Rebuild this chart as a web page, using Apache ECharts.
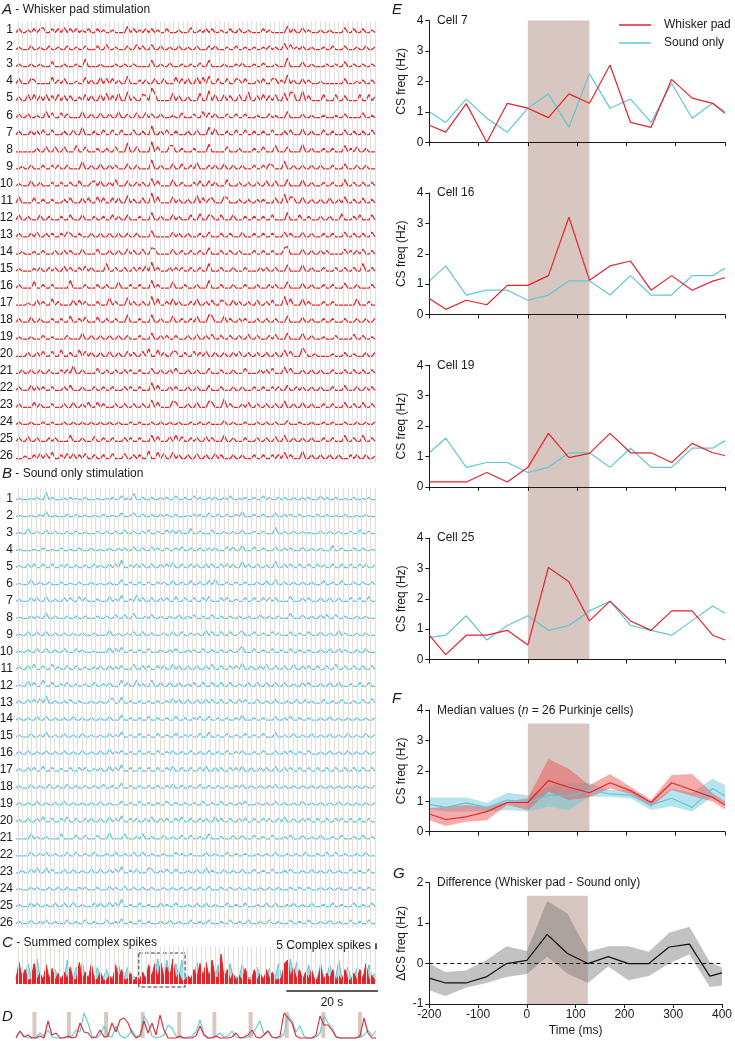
<!DOCTYPE html>
<html>
<head>
<meta charset="utf-8">
<script src="https://cdn.jsdelivr.net/npm/echarts@6/dist/echarts.min.js"></script>
<style>
  html, body { margin: 0; padding: 0; background: #fff; }
  #main { width: 735px; height: 1041px; }
</style>
</head>
<body>
<div id="main"></div>
<script>
// ---- data ----
// raster traces: "column:height" tokens, 120 columns over ~79 s, height in px above baseline
var whiskerTraces = [
  "1:3 4:2 6:3 8:3 9:4 12:3 14:3 16:4 18:3 20:3 22:2 24:3 27:3 29:2 32:2 37:5 39:3 41:2 43:3 45:3 47:2 50:3 54:2 58:4 61:2 63:3 65:3 68:2 71:3 74:3 77:2 82:3 84:2 90:5 92:3 95:4 97:2 101:2 104:2 109:4 112:3 115:3 118:2",
  "1:2 5:3 8:2 11:3 14:2 17:3 20:2 23:3 27:3 30:4 33:2 37:3 40:4 42:3 45:4 48:3 51:2 54:3 57:2 60:3 64:3 66:3 70:2 73:3 76:2 79:2 82:2 84:3 86:2 89:5 91:4 93:2 95:3 98:2 102:2 105:3 109:3 113:2 116:3 119:2",
  "1:2 5:2 8:2 12:4 16:2 20:2 23:6 28:2 33:2 36:2 39:2 45:5 48:2 51:3 55:2 58:2 61:3 64:5 69:2 73:2 75:3 79:2 82:3 86:2 90:7 95:4 98:2 103:2 106:2 109:4 112:2 115:2 118:2",
  "1:4 5:4 6:3 12:5 14:3 16:4 20:2 23:5 25:3 28:5 30:4 32:4 34:3 37:6 41:3 43:3 46:4 49:4 53:5 55:4 57:4 60:5 62:5 64:6 67:4 70:4 73:4 74:3 76:4 80:3 82:4 85:4 86:4 88:3 90:7 92:3 95:4 97:3 101:2 109:4 113:2 115:3 118:3",
  "1:3 4:5 6:5 8:4 10:5 12:4 14:5 16:4 18:4 21:3 23:5 25:4 28:5 30:6 32:4 34:6 37:7 39:3 42:5 43:4 45:10 46:6 52:6 54:4 57:3 61:6 64:8 66:5 69:5 71:4 74:5 77:7 80:4 82:5 84:4 86:5 89:6 91:7 92:6 95:8 97:4 102:5 106:5 109:4 114:5 117:5 119:3",
  "1:3 4:3 7:2 10:5 12:4 15:4 17:3 22:5 25:3 28:4 31:3 34:5 37:3 40:4 43:4 45:3 48:3 52:2 55:4 59:3 62:5 64:4 66:3 70:3 73:3 76:3 80:2 84:3 86:2 90:5 95:3 98:2 102:2 106:2 109:3 115:4 118:2",
  "1:3 5:3 7:3 9:4 12:4 16:3 19:4 22:6 26:3 29:4 32:4 35:4 39:4 42:3 45:7 48:3 50:4 53:3 57:3 60:4 64:6 66:5 70:3 73:4 76:4 79:3 82:3 85:4 89:3 91:4 95:5 98:3 102:4 105:3 109:4 112:3 115:3 118:4",
  "7:3 10:4 13:4 16:4 20:5 23:4 27:3 30:3 33:4 37:7 40:4 45:8 47:4 51:5 52:5 55:3 59:3 64:6 70:4 74:3 79:3 82:4 86:5 90:4 95:6 98:3 102:3 105:3 109:5 111:3 113:4 116:3",
  "2:2 5:3 9:3 12:3 14:3 17:3 22:6 25:3 28:4 31:3 33:3 37:4 40:3 45:7 48:3 52:4 55:4 58:3 60:5 64:3 66:3 69:4 72:3 75:3 79:3 82:3 84:4 85:3 89:6 92:3 95:3 98:3 101:3 105:3 109:4 113:3 116:3",
  "1:2 5:4 8:3 12:3 15:3 18:3 21:4 25:3 26:4 28:4 31:3 33:5 37:4 40:3 42:3 45:6 47:4 52:5 55:3 59:3 61:4 64:4 66:3 70:5 74:3 77:3 80:3 83:4 86:4 90:5 95:5 98:3 102:3 105:3 109:5 112:3 115:3 118:3",
  "1:5 6:4 9:3 12:3 16:3 18:4 22:4 24:4 27:5 29:4 32:4 34:4 37:6 39:3 42:4 45:8 47:5 52:5 54:3 57:3 60:6 62:4 64:3 65:4 69:5 70:4 74:3 77:3 80:3 82:3 86:4 89:7 91:5 92:4 95:5 98:3 101:3 104:4 107:3 109:5 112:3 115:4 118:3",
  "1:4 4:3 8:4 11:3 15:3 18:4 22:4 26:3 29:3 32:4 34:3 37:4 41:3 45:6 48:3 52:4 54:3 58:4 61:5 64:4 65:3 68:4 72:4 76:3 79:3 82:3 85:4 90:6 94:4 97:3 101:3 104:3 108:5 112:3 114:4 118:4",
  "1:3 5:3 7:4 10:3 12:3 15:3 17:4 18:3 21:3 25:3 28:3 31:3 34:3 37:3 40:3 45:5 52:4 54:3 57:3 61:3 64:4 68:3 71:3 75:4 79:3 82:3 85:3 89:4 91:3 95:4 98:3 102:3 105:3 109:4 112:3 115:3 118:4",
  "2:2 6:2 9:3 13:3 16:3 18:3 22:4 27:4 31:3 34:3 37:4 39:3 42:4 45:5 46:4 52:4 55:3 58:3 61:3 64:5 68:3 71:3 74:3 79:3 82:3 85:3 89:5 90:6 95:4 98:3 101:3 103:3 109:4 111:3 113:3 115:4 118:3",
  "1:2 6:2 8:3 11:3 13:3 16:4 18:3 21:3 23:4 25:3 30:6 33:3 36:3 39:3 41:3 43:4 45:7 47:3 51:3 53:3 55:3 58:3 61:3 64:6 68:3 72:3 76:3 81:3 83:3 86:3 90:5 95:5 98:3 102:3 106:3 109:3 112:3 115:6 118:3",
  "1:3 6:5 9:3 12:3 18:6 23:3 27:3 30:3 34:5 38:3 41:3 45:6 47:3 52:5 56:3 60:3 64:6 68:3 72:3 76:3 80:3 84:3 86:3 90:5 95:4 98:3 102:3 105:3 109:4 113:3 118:3",
  "4:2 7:4 9:3 12:5 14:3 19:4 21:4 23:3 27:3 31:6 33:3 37:6 39:3 42:3 45:7 47:5 50:3 52:5 54:3 58:3 60:5 63:3 65:4 68:4 69:3 72:4 74:3 77:3 80:4 83:3 85:4 89:7 91:5 95:5 97:3 102:3 105:3 113:5 117:3",
  "1:3 5:4 8:3 12:3 15:3 18:5 21:3 23:4 27:4 30:3 33:3 37:6 41:3 45:6 48:3 52:5 55:3 58:3 60:5 64:6 65:5 69:5 71:3 74:3 76:3 80:3 83:3 86:3 90:5 95:4 98:3 102:3 105:3 109:3 113:3 116:3 119:3",
  "1:2 5:2 9:3 12:2 17:3 22:5 25:3 28:3 31:3 34:3 37:3 41:3 45:5 48:3 50:3 53:3 57:3 60:4 63:3 65:4 68:3 71:3 74:3 77:4 80:3 84:3 86:4 90:5 95:5 98:3 102:2 106:3 112:4 115:3 118:2",
  "4:3 7:3 9:4 12:4 15:5 18:3 21:5 23:4 25:3 28:3 31:4 34:3 37:4 39:3 42:4 44:6 47:5 49:3 52:4 53:4 56:3 59:4 61:3 63:4 66:3 69:3 72:3 74:4 77:3 80:3 83:3 86:3 89:5 91:4 95:7 96:3 99:2 105:2 109:3 112:2 116:3 119:3",
  "2:3 5:3 8:3 11:3 15:3 17:3 19:6 22:3 27:4 30:3 33:3 36:3 38:3 41:3 45:4 48:3 51:3 53:4 57:3 60:3 64:4 68:3 72:3 76:4 81:3 83:3 85:4 89:5 91:4 95:3 98:3 101:3 105:3 109:3 112:3 115:3 118:3",
  "1:3 5:4 7:3 9:3 12:3 16:3 18:4 22:3 26:3 29:3 32:3 36:3 38:3 41:3 45:6 47:4 51:3 53:3 57:3 60:3 64:4 68:3 72:3 75:3 79:3 82:3 85:3 87:3 90:4 93:3 95:3 98:3 101:3 105:3 109:4 113:3 116:3 118:3",
  "1:3 6:4 8:3 12:3 16:3 19:4 22:3 24:4 27:4 29:3 33:3 36:3 39:3 42:3 45:6 47:4 52:5 53:4 57:3 60:4 64:5 65:4 69:7 71:3 75:3 77:4 80:3 83:3 86:3 89:5 92:3 95:4 98:3 102:3 105:3 109:4 112:3 115:4 118:3",
  "1:2 5:2 9:2 12:2 16:2 19:2 22:2 25:2 28:2 31:2 34:2 38:2 41:2 45:2 48:2 51:2 54:2 58:2 61:2 64:2 69:3 72:2 76:2 80:2 83:2 86:2 90:3 94:2 98:2 102:2 105:2 109:2 113:2 116:2 119:2",
  "1:3 4:4 7:3 11:3 13:3 18:5 22:3 26:4 29:3 32:3 36:3 38:3 41:3 45:5 47:4 51:4 53:5 55:4 58:3 60:3 63:4 65:3 69:5 72:3 76:3 80:3 83:3 86:4 89:5 92:3 95:3 98:3 102:3 105:3 109:5 112:3 115:5 118:3",
  "3:2 6:3 8:4 10:4 12:5 15:3 17:4 19:4 21:3 23:4 26:3 29:3 32:4 36:4 39:3 41:3 44:6 47:5 49:4 52:5 54:3 57:3 60:4 63:3 66:4 68:3 72:3 75:3 79:3 82:3 85:3 87:3 89:5 91:3 95:6 98:3 101:3 104:3 107:3 111:3 113:3 116:3 119:2"
];
var soundTraces = [
  "1:1 5:1 7:2 10:6 12:2 16:1 18:2 20:1 23:2 27:1 30:1 32:2 35:3 37:1 39:5 42:2 45:2 48:2 50:2 53:3 56:2 59:3 61:2 64:2 66:2 69:2 71:3 74:1 76:2 79:2 82:3 84:2 87:2 89:2 92:2 95:2 97:2 101:3 103:2 106:2 109:1 112:2 115:1 117:2",
  "1:1 5:1 8:2 10:4 13:1 17:2 20:2 23:1 26:1 29:2 32:1 35:3 38:1 39:3 42:2 45:2 48:2 50:2 53:2 57:1 59:2 61:2 64:3 67:2 70:2 73:2 75:4 79:2 82:2 86:3 89:2 91:2 94:2 97:1 100:2 103:2 106:1 109:2 113:1 116:2",
  "1:1 4:4 7:2 10:3 13:2 17:2 20:2 23:1 27:2 30:2 33:2 36:3 39:2 42:2 44:3 47:2 50:3 52:3 54:3 58:4 61:2 65:3 69:2 72:2 75:3 79:2 82:2 86:5 89:2 92:2 95:2 97:1 101:2 104:2 107:2 111:2 114:3 117:2",
  "1:1 6:1 9:2 12:1 15:2 18:1 21:2 25:2 28:1 31:2 34:2 36:2 39:3 42:2 45:3 47:2 50:2 53:2 55:3 58:2 61:2 64:2 66:2 70:3 72:3 75:4 79:3 82:2 86:3 89:2 91:2 95:3 98:2 101:2 105:4 108:2 112:2 115:2 118:1",
  "1:2 4:3 6:3 9:3 12:3 15:2 17:3 20:2 23:2 26:3 28:2 31:3 33:3 35:6 38:2 40:3 42:3 45:3 48:3 50:3 52:4 55:3 58:3 60:3 63:3 65:3 68:3 70:3 72:3 75:5 77:3 80:3 83:2 86:5 89:3 91:3 94:3 97:3 100:3 102:2 105:3 108:3 111:3 114:3 116:3 119:2",
  "1:1 5:4 8:2 11:2 15:2 18:1 21:2 25:2 28:1 31:2 35:4 38:2 41:2 44:2 47:2 49:2 52:3 55:2 58:3 61:2 64:3 66:4 70:2 73:2 76:2 80:2 83:3 86:4 89:2 92:2 95:2 98:2 102:3 105:2 108:3 112:2 115:2 118:2",
  "1:2 5:3 7:3 10:4 13:2 16:3 18:3 21:4 23:3 27:2 31:4 33:2 35:5 38:2 40:5 42:3 45:3 48:3 50:3 53:4 56:3 59:3 62:3 64:4 68:3 70:3 73:2 76:3 79:3 82:3 84:3 86:3 91:4 95:3 97:3 101:3 104:3 107:3 111:3 114:3 117:4",
  "1:1 5:2 7:2 10:4 13:2 17:2 20:2 23:2 27:2 30:2 33:3 36:3 39:4 43:2 45:3 48:2 51:2 54:3 57:2 59:3 62:2 65:3 68:2 71:2 74:2 77:2 81:3 84:2 87:2 91:4 95:3 98:2 101:3 103:3 106:3 109:2 113:2 116:2",
  "1:1 4:3 7:3 10:3 13:2 16:2 19:2 22:2 26:2 31:4 34:2 37:2 39:3 42:3 45:2 49:2 52:3 55:3 58:2 60:2 63:4 65:3 68:3 71:3 74:2 75:4 79:3 82:2 85:3 87:2 91:3 94:2 97:3 101:3 104:2 107:4 109:2 113:2 116:2",
  "1:1 4:2 7:3 10:3 13:2 16:3 20:3 22:2 26:1 31:4 33:3 35:4 38:2 41:2 44:3 48:2 51:2 53:3 57:2 59:2 62:3 65:2 68:2 71:2 74:2 75:5 79:3 82:2 85:3 88:2 91:3 94:2 97:2 101:2 104:3 107:3 109:2 113:2 116:3",
  "1:2 4:3 6:4 9:3 12:4 14:2 17:3 20:3 23:2 26:2 28:3 31:3 33:2 35:3 39:4 42:3 44:3 47:3 49:3 52:4 54:3 57:3 60:3 63:3 65:4 68:3 71:3 73:3 75:5 78:3 81:3 83:4 86:3 89:3 92:4 95:3 97:3 100:3 103:3 106:4 109:3 112:3 115:3 118:3",
  "1:1 4:4 6:3 9:5 12:3 15:2 17:3 20:2 23:2 26:3 29:2 31:3 35:5 37:3 40:5 42:2 45:5 48:3 51:3 54:3 57:2 59:3 62:3 65:3 68:3 71:3 74:2 77:3 80:3 83:3 86:3 89:3 92:2 95:3 97:3 101:2 104:3 107:3 111:2 114:3 117:3",
  "1:2 4:3 6:3 8:4 10:6 13:2 16:2 18:3 21:2 25:2 28:2 31:3 32:4 35:5 38:2 41:2 44:2 47:2 50:2 52:4 54:3 57:3 60:3 63:3 65:3 68:3 71:3 74:3 76:3 80:3 83:2 86:3 90:2 93:3 96:3 98:2 102:3 105:2 108:3 112:2 115:3 118:4",
  "1:2 4:2 7:3 10:3 13:2 16:2 19:3 22:2 25:2 28:2 31:3 35:4 38:2 41:2 44:3 47:2 50:2 53:3 56:2 59:2 61:3 64:3 67:2 70:2 73:2 75:4 79:2 82:2 86:3 89:2 91:3 94:2 97:2 101:2 104:3 107:2 110:2 113:2 116:2 119:2",
  "1:2 5:3 8:2 10:4 13:2 16:3 19:2 22:3 25:2 28:2 31:3 33:2 35:4 38:2 41:3 44:2 47:3 50:2 53:3 56:2 58:2 61:3 64:4 67:2 70:3 73:2 76:3 79:2 82:3 86:4 89:2 92:3 95:2 98:3 101:2 104:3 107:2 110:3 113:2 116:3 119:2",
  "1:2 4:3 7:2 10:3 13:2 16:3 19:2 22:3 25:2 28:3 31:4 33:2 35:3 38:2 41:3 44:2 47:3 50:2 52:3 55:2 58:3 61:2 64:3 67:2 70:3 73:2 75:3 79:2 82:3 86:3 89:2 91:3 94:2 97:3 101:2 104:3 107:2 110:3 113:2 116:3 119:2",
  "1:2 4:3 6:3 9:4 12:3 15:2 18:3 21:3 23:3 26:2 28:3 31:4 33:3 35:5 38:3 41:3 44:3 47:3 50:3 52:4 55:3 58:3 61:3 63:4 66:3 68:3 71:3 73:3 75:4 78:3 81:3 83:3 86:4 89:3 91:3 94:3 97:3 100:3 103:3 106:3 109:3 112:3 115:3 118:3",
  "1:2 5:3 8:2 11:3 14:2 17:3 20:2 23:2 26:2 29:3 32:2 35:4 38:2 41:2 44:2 47:2 50:2 52:3 55:2 58:2 61:3 64:2 67:2 70:2 73:2 75:3 78:2 81:2 84:2 86:3 89:2 92:2 95:2 98:2 101:2 104:2 107:2 110:2 113:2 116:2 119:2",
  "1:2 4:2 7:3 10:2 13:2 16:3 19:2 22:2 25:2 28:3 31:2 35:3 38:2 41:3 44:2 47:2 50:3 53:2 56:2 59:2 62:3 65:2 68:3 71:2 74:2 76:3 80:2 83:2 86:3 89:2 92:2 95:3 98:2 101:2 104:2 107:3 110:2 113:2 116:2 119:2",
  "1:2 4:3 7:3 9:4 12:3 15:3 17:4 20:3 23:3 25:3 28:3 31:4 33:3 35:5 38:3 40:3 43:3 45:4 48:3 50:3 53:3 55:4 58:3 61:3 63:3 66:4 68:3 71:3 74:3 76:3 79:3 82:3 84:3 87:3 89:4 92:3 95:3 97:3 100:3 103:3 106:3 108:3 111:3 114:3 117:3",
  "5:4 7:2 10:2 15:4 20:3 23:3 27:3 31:5 36:4 40:2 42:4 45:2 49:3 52:2 55:3 58:3 61:2 64:4 68:2 72:3 75:3 79:3 82:2 85:3 89:2 91:3 95:3 98:2 101:3 105:2 108:3 112:2 115:3 118:2",
  "5:3 8:2 10:3 13:2 17:3 20:3 23:2 26:3 30:2 33:3 36:2 39:3 42:3 45:2 49:2 53:3 55:2 58:2 63:3 66:2 70:3 73:2 76:2 80:2 83:2 86:3 90:2 93:2 96:3 100:2 103:3 106:3 109:2 113:2 116:3",
  "2:2 5:3 7:4 10:4 12:3 16:3 19:3 22:2 25:3 28:3 31:3 33:3 35:5 38:2 40:3 44:4 45:3 48:2 50:3 53:3 57:2 60:3 63:4 65:2 69:3 72:2 75:3 79:3 82:2 85:3 89:2 91:3 95:2 98:3 101:2 104:3 107:2 111:3 114:2 117:3",
  "1:1 5:2 7:2 11:2 14:2 17:2 21:2 23:2 27:2 31:3 33:2 36:3 39:2 42:2 45:2 49:2 52:2 55:2 58:2 61:2 64:3 68:2 71:2 74:2 77:2 81:2 84:2 87:2 91:2 94:2 97:2 101:2 104:2 107:2 111:2 114:2 117:2",
  "1:2 5:3 7:3 10:2 13:3 16:3 19:4 22:2 26:3 28:3 31:4 33:3 35:6 38:2 41:3 44:2 48:3 50:2 53:3 57:2 60:3 63:3 66:2 70:3 73:2 76:3 80:2 83:3 86:3 90:2 92:3 95:2 98:3 102:2 105:3 108:2 112:3 115:2 118:3",
  "1:2 5:3 8:2 10:3 13:2 17:3 20:2 23:3 26:2 30:3 33:2 35:4 38:2 41:3 44:2 48:2 51:3 54:2 58:3 61:2 64:3 68:2 71:3 74:2 77:3 81:2 84:3 87:2 91:3 94:2 97:3 101:2 104:3 107:2 111:3 114:2 117:3"
];
// stimulus onsets (s)
var stimTimes = [0.4, 1.4, 2.4, 3.4, 4.4, 5.4, 6.4, 7.4, 8.4, 9.4, 10.4, 11.4, 12.4, 13.4, 14.4, 15.4, 16.4, 17.4, 18.4, 19.4,
  20.4, 21.4, 22.4, 23.4, 24.4, 25.4, 26.4, 27.4, 28.4, 29.4, 30.4, 31.4, 32.4, 33.4, 34.4, 35.4, 36.4, 37.4, 38.4, 39.4,
  40.4, 41.4, 42.4, 43.4, 44.4, 45.4, 46.4, 47.4, 48.4, 49.4, 50.4, 51.4, 52.4, 53.4, 54.4, 55.4, 56.4, 57.4, 58.4, 59.4,
  60.4, 61.4, 62.4, 63.4, 64.4, 65.4, 66.4, 67.4, 68.4, 69.4, 70.4, 71.4, 72.4, 73.4, 74.4, 75.4, 76.4, 77.4, 78.4];
// summed complex spikes (C), 120 columns
var sumWhisker = [4, 18, 5, 12, 3, 4, 17, 4, 9, 3, 16, 4, 13, 3, 9, 3, 10, 4, 14, 3, 4, 18, 3, 10, 4, 17, 3, 4, 10, 3,
  3, 7, 3, 16, 4, 12, 3, 4, 9, 2, 6, 3, 10, 4, 16, 6, 17, 5, 18, 6, 14, 5, 21, 4, 9, 3, 3, 7, 4, 12,
  5, 17, 6, 18, 5, 20, 6, 5, 25, 4, 12, 3, 9, 3, 7, 3, 13, 4, 3, 12, 3, 9, 3, 12, 4, 10, 3, 4, 5, 17,
  20, 6, 14, 4, 12, 3, 10, 4, 12, 3, 4, 14, 3, 9, 4, 12, 3, 7, 3, 12, 4, 3, 9, 3, 12, 4, 17, 3, 7, 3];
var sumSound = [5, 6, 5, 8, 17, 6, 5, 21, 6, 5, 6, 5, 7, 12, 5, 6, 5, 20, 6, 5, 14, 6, 18, 5, 6, 5, 6, 14, 5, 6,
  12, 5, 6, 5, 16, 5, 6, 14, 5, 6, 5, 6, 5, 6, 5, 6, 7, 21, 6, 5, 20, 6, 5, 17, 6, 20, 5, 6, 5, 6,
  18, 5, 6, 14, 5, 6, 5, 16, 6, 5, 6, 17, 5, 6, 5, 17, 6, 5, 6, 5, 14, 5, 6, 5, 13, 5, 6, 17, 6, 5,
  6, 21, 6, 18, 5, 6, 5, 16, 6, 5, 6, 17, 5, 6, 16, 5, 6, 20, 5, 6, 14, 5, 6, 13, 5, 6, 5, 16, 6, 9];
// D: 10 s zoom, 91 columns, px above baseline
var zoomWhisker = [0, 7, 1, 3, 0, 0, 2, 0, 17, 3, 5, 0, 0, 2, 0, 1, 15, 6, 5, 0, 1, 8, 1, 2, 15, 6, 18, 20, 15, 5,
  0, 2, 17, 5, 15, 3, 23, 8, 0, 0, 0, 2, 0, 0, 0, 2, 12, 3, 0, 0, 2, 0, 0, 0, 1, 5, 0, 1, 3, 8,
  1, 0, 3, 7, 1, 0, 2, 25, 20, 15, 2, 0, 0, 0, 0, 3, 22, 13, 13, 8, 1, 0, 0, 0, 0, 0, 2, 20, 5, 0, 0];
var zoomSound = [1, 7, 2, 0, 0, 1, 5, 2, 8, 1, 0, 0, 1, 0, 2, 8, 6, 25, 15, 2, 0, 3, 12, 2, 1, 12, 3, 0, 2, 8,
  1, 3, 22, 15, 2, 0, 1, 3, 13, 10, 2, 0, 0, 1, 2, 6, 18, 4, 0, 0, 2, 5, 1, 2, 7, 1, 0, 0, 1, 3,
  10, 17, 4, 7, 1, 0, 0, 4, 23, 17, 6, 12, 2, 0, 0, 1, 5, 22, 15, 10, 2, 0, 0, 0, 0, 0, 1, 3, 8, 2, 7];
var zoomStim = [0.51, 1.46, 2.49, 3.50, 4.51, 5.48, 6.48, 7.48, 8.49, 9.50];
var zoomWindow = [26.8, 36.9];

// E-G: 42 ms bins
var binTimes = [-200, -166.7, -125, -83.3, -41.7, 0, 41.7, 83.3, 125, 166.7, 208.3, 250, 291.7, 333.3, 375, 400];
var cellNames = ['Cell 7', 'Cell 16', 'Cell 19', 'Cell 25'];
var cellWhisker = [
  [0.56, 0.33, 1.27, 0, 1.28, 1.12, 0.81, 1.59, 1.28, 2.54, 0.65, 0.49, 2.07, 1.45, 1.28, 0.95],
  [0.53, 0.17, 0.47, 0.32, 0.96, 0.96, 1.28, 3.2, 1.13, 1.6, 1.76, 0.8, 1.28, 0.8, 1.1, 1.21],
  [0.16, 0.16, 0.16, 0.47, 0.16, 0.64, 1.76, 0.96, 1.1, 1.76, 1.12, 1.12, 0.8, 1.43, 1.12, 1.03],
  [0.8, 0.16, 0.8, 0.8, 0.96, 0.48, 3.03, 2.56, 1.27, 1.92, 1.27, 0.96, 1.6, 1.6, 0.8, 0.64]
];
var cellSound = [
  [1.0, 0.65, 1.42, 0.79, 0.33, 1.12, 1.59, 0.49, 2.25, 1.12, 1.42, 0.65, 1.94, 0.79, 1.28, 1.0],
  [1.1, 1.6, 0.64, 0.8, 0.8, 0.47, 0.64, 1.11, 1.11, 0.64, 1.28, 0.64, 0.64, 1.28, 1.28, 1.52],
  [1.12, 1.6, 0.64, 0.8, 0.8, 0.47, 0.64, 1.12, 1.12, 0.64, 1.27, 0.64, 0.64, 1.27, 1.27, 1.52],
  [0.72, 0.8, 1.44, 0.64, 1.12, 1.44, 0.96, 1.12, 1.6, 1.92, 1.12, 0.96, 0.8, 1.28, 1.76, 1.52]
];
var medWhisker = [0.58, 0.4, 0.49, 0.66, 0.96, 0.96, 1.68, 1.46, 1.28, 1.61, 1.35, 0.96, 1.61, 1.37, 1.13, 0.88];
var medWhiskerHi = [0.77, 0.82, 0.88, 0.82, 0.99, 1.1, 2.39, 2.06, 1.53, 1.9, 1.48, 1.04, 1.86, 1.9, 1.26, 0.99];
var medWhiskerLo = [0.38, 0.19, 0.33, 0.38, 0.88, 0.71, 1.31, 1.04, 1.13, 1.42, 1.24, 0.82, 1.37, 1.17, 0.99, 0.73];
var medSound = [0.9, 0.8, 0.95, 0.8, 1.04, 0.96, 1.2, 1.17, 1.37, 1.24, 1.2, 0.88, 1.1, 0.8, 1.42, 1.17];
var medSoundHi = [1.12, 1.12, 1.12, 0.95, 1.28, 1.2, 1.48, 1.59, 1.59, 1.37, 1.37, 0.95, 1.42, 1.28, 1.75, 1.53];
var medSoundLo = [0.73, 0.66, 0.66, 0.66, 0.71, 0.66, 0.82, 0.71, 1.15, 1.15, 1.1, 0.71, 0.84, 0.66, 1.15, 0.93];
var diffMed = [-0.36, -0.48, -0.48, -0.33, 0, 0.08, 0.72, 0.25, 0, 0.17, 0, 0, 0.41, 0.48, -0.31, -0.23];
var diffHi = [0, -0.21, -0.17, 0.08, 0.43, 0.31, 1.55, 1.24, 0.29, 0.43, 0.43, 0.29, 0.76, 0.91, 0.04, -0.1];
var diffLo = [-0.66, -0.8, -0.6, -0.48, -0.33, -0.26, 0.17, -0.25, -0.48, -0.07, -0.41, -0.31, 0, 0.23, -0.58, -0.54];
var stimWindow = [0, 125];

// ---- styles ----
var FONT = 'Liberation Sans, Arial, sans-serif';
var RED = '#e5232b', CYAN = '#62c6d6', STIM = '#e4dedb', BAND = '#d8c7c0', INK = '#1a1a1a';
var COL_SEC = 79 / 120, ZOOM_COL_SEC = 10 / 90.5;

var grids = [], xAxes = [], yAxes = [], series = [], graphics = [];
function addGrid(g, xa, ya) {
  grids.push(g);
  var i = grids.length - 1;
  xa.gridIndex = i; ya.gridIndex = i;
  xAxes.push(xa); yAxes.push(ya);
  return i;
}
function txt(x, y, text, opt) {
  graphics.push({type: 'text', x: x, y: y, silent: true, z: 10,
    style: Object.assign({text: text, fill: INK, fontSize: 12, fontFamily: FONT, align: 'left', verticalAlign: 'middle'}, opt || {})});
}
function parseTrace(s) {
  var v = [];
  for (var c = 0; c < 120; c++) v.push(0);
  s.split(' ').forEach(function (tok) {
    var p = tok.split(':');
    v[+p[0]] = +p[1];
  });
  return v.map(function (h, c) { return [c * COL_SEC, h]; });
}
function hidden(min, max) { return {type: 'value', min: min, max: max, show: false}; }

// ---- A / B rasters ----
function raster(traces, color, labelTop, step, baseOff) {
  traces.forEach(function (s, i) {
    var label = labelTop + step * i, base = label + baseOff;
    var gi = addGrid({left: 16, width: 362, top: base - 12, height: 13}, hidden(0, 79), hidden(-0.8, 9.6));
    series.push({type: 'line', xAxisIndex: gi, yAxisIndex: gi, data: parseTrace(s), symbol: 'none', clip: false,
      lineStyle: {color: color, width: 1.25}, z: 3, silent: true, animation: false});
    txt(13, label, String(i + 1), {align: 'right'});
  });
}
raster(whiskerTraces, RED, 30, 17.04, 2.5);
raster(soundTraces, CYAN, 498.7, 16.96, 1);

function stimOverlay(top, height) {
  var gi = addGrid({left: 16, width: 362, top: top, height: height}, hidden(0, 79), hidden(0, 1));
  series.push({type: 'line', xAxisIndex: gi, yAxisIndex: gi, data: [], z: 1, silent: true, animation: false,
    markLine: {silent: true, symbol: ['none', 'none'], label: {show: false}, animation: false,
      lineStyle: {color: STIM, width: 1, type: 'solid'},
      data: stimTimes.map(function (t) { return {xAxis: t}; })}});
}
stimOverlay(21, 442);
stimOverlay(488, 440);

// ---- C summed ----
var gc = addGrid({left: 16, width: 362, top: 942, height: 49.2}, hidden(0, 79), hidden(-6, 35));
series.push({type: 'line', xAxisIndex: gc, yAxisIndex: gc, data: [], z: 1, silent: true, animation: false,
  markLine: {silent: true, symbol: ['none', 'none'], label: {show: false}, animation: false,
    lineStyle: {color: STIM, width: 1, type: 'solid'},
    data: stimTimes.map(function (t) { return [{coord: [t, 0]}, {coord: [t, 31]}]; })}});
series.push({type: 'line', xAxisIndex: gc, yAxisIndex: gc, symbol: 'none', z: 2, silent: true, animation: false,
  data: sumSound.map(function (v, c) { return [c * COL_SEC, v]; }),
  lineStyle: {color: CYAN, width: 1}, areaStyle: {color: CYAN, opacity: 0.6}});
series.push({type: 'line', xAxisIndex: gc, yAxisIndex: gc, symbol: 'none', z: 3, silent: true, animation: false,
  data: sumWhisker.map(function (v, c) { return [c * COL_SEC, v]; }),
  lineStyle: {color: RED, width: 1}, areaStyle: {color: RED, opacity: 1}});
series.push({type: 'line', xAxisIndex: gc, yAxisIndex: gc, data: [], z: 5, silent: true, animation: false,
  markArea: {silent: true, itemStyle: {color: 'rgba(0,0,0,0)', borderColor: '#333', borderWidth: 1, borderType: 'dashed'},
    data: [[{coord: [zoomWindow[0], 25.8]}, {coord: [zoomWindow[1], -2.5]}]]},
  markLine: {silent: true, symbol: ['none', 'none'], label: {show: false}, animation: false,
    lineStyle: {color: '#222', width: 1.5, type: 'solid'},
    data: [[{coord: [59, -5.8]}, {coord: [79, -5.8]}], [{coord: [78.4, 29]}, {coord: [78.4, 34]}]]}});

// ---- D zoom ----
var gd = addGrid({left: 16, width: 362, top: 1010, height: 29}, hidden(0, 10), hidden(-1, 28));
series.push({type: 'line', xAxisIndex: gd, yAxisIndex: gd, data: [], z: 1, silent: true, animation: false,
  markArea: {silent: true, itemStyle: {color: '#d9c7c0'},
    data: zoomStim.map(function (t) { return [{coord: [t - 0.055, 0]}, {coord: [t + 0.055, 26]}]; })}});
series.push({type: 'line', xAxisIndex: gd, yAxisIndex: gd, symbol: 'none', z: 2, silent: true, animation: false,
  data: zoomSound.map(function (v, c) { return [c * ZOOM_COL_SEC, v]; }), lineStyle: {color: CYAN, width: 1.1}});
series.push({type: 'line', xAxisIndex: gd, yAxisIndex: gd, symbol: 'none', z: 3, silent: true, animation: false,
  data: zoomWhisker.map(function (v, c) { return [c * ZOOM_COL_SEC, v]; }), lineStyle: {color: RED, width: 1.1}});

// ---- E-G panels ----
var PX_LEFT = 429.3, PX_W = 295.7;
function xy(arr) { return binTimes.map(function (t, i) { return [t, arr[i]]; }); }
function panel(top, height, ymin, ymax, yname, showX) {
  var axisStyle = {show: true, onZero: false, lineStyle: {color: INK, width: 1}};
  var tick = {show: true, length: 4, lineStyle: {color: INK, width: 1}};
  return addGrid({left: PX_LEFT, width: PX_W, top: top, height: height},
    {type: 'value', min: -200, max: 400, interval: 100, z: 5, axisLine: axisStyle, axisTick: tick, splitLine: {show: false},
      axisLabel: {show: showX, color: INK, fontSize: 12, fontFamily: FONT, margin: 5},
      name: showX ? 'Time (ms)' : '', nameLocation: 'middle', nameGap: 21,
      nameTextStyle: {color: INK, fontSize: 12, fontFamily: FONT}},
    {type: 'value', min: ymin, max: ymax, interval: 1, z: 5, axisLine: axisStyle, axisTick: tick, splitLine: {show: false},
      axisLabel: {color: INK, fontSize: 12, fontFamily: FONT, margin: 6},
      name: yname, nameLocation: 'middle', nameGap: 22, nameRotate: 90,
      nameTextStyle: {color: INK, fontSize: 12, fontFamily: FONT}});
}
function line(gi, data, color, name, z) {
  series.push({type: 'line', name: name, xAxisIndex: gi, yAxisIndex: gi, data: xy(data), symbol: 'none',
    lineStyle: {color: color, width: 1.2}, itemStyle: {color: color}, z: z || 4, silent: true, animation: false});
}
function band(gi, hi, lo, color) {
  series.push({type: 'custom', xAxisIndex: gi, yAxisIndex: gi, z: 3, silent: true, animation: false,
    data: binTimes.map(function (t, i) { return [t, hi[i], lo[i]]; }),
    encode: {x: 0, y: [1, 2]},
    renderItem: function (params, api) {
      if (params.dataIndex !== 0) return null;
      var pts = [];
      binTimes.forEach(function (t, i) { pts.push(api.coord([t, hi[i]])); });
      for (var i = binTimes.length - 1; i >= 0; i--) pts.push(api.coord([binTimes[i], lo[i]]));
      return {type: 'polygon', shape: {points: pts}, style: {fill: color}};
    }});
}
function stimRect(gi, y0, y1) {
  series.push({type: 'line', xAxisIndex: gi, yAxisIndex: gi, data: [], z: 1, silent: true, animation: false,
    markArea: {silent: true, itemStyle: {color: BAND},
      data: [[{coord: [stimWindow[0], y0]}, {coord: [stimWindow[1], y1]}]]}});
}

// continuous stimulus band behind the four cells
var ge = addGrid({left: PX_LEFT, width: PX_W, top: 20.5, height: 638.5}, hidden(-200, 400), hidden(0, 1));
stimRect(ge, 0, 1);

var cellTops = [20.7, 193, 365.3, 538];
cellNames.forEach(function (nm, k) {
  var gi = panel(cellTops[k], 121.5, 0, 4, 'CS freq (Hz)', false);
  line(gi, cellSound[k], CYAN, k === 0 ? 'Sound only' : 'sound' + k);
  line(gi, cellWhisker[k], RED, k === 0 ? 'Whisker pad' : 'whisker' + k, 5);
  txt(437, cellTops[k], nm);
});

var gf = panel(710, 121.7, 0, 4, 'CS freq (Hz)', false);
stimRect(gf, 0, 3.56);
band(gf, medSoundHi, medSoundLo, 'rgba(95,195,212,0.45)');
band(gf, medWhiskerHi, medWhiskerLo, 'rgba(238,72,72,0.45)');
line(gf, medSound, CYAN, 'medSound');
line(gf, medWhisker, RED, 'medWhisker', 5);
txt(437, 710.7, 'Median values ({i|n} = 26 Purkinje cells)', {rich: {i: {fontStyle: 'italic', fontSize: 12, fontFamily: FONT, fill: INK}}});

var gg = panel(882.7, 121.3, -1, 2, '\u0394CS freq (Hz)', true);
stimRect(gg, -1, 1.68);
band(gg, diffHi, diffLo, 'rgba(120,120,120,0.45)');
line(gg, diffMed, '#111', 'diff', 5);
series.push({type: 'line', xAxisIndex: gg, yAxisIndex: gg, data: [], z: 4, silent: true, animation: false,
  markLine: {silent: true, symbol: ['none', 'none'], label: {show: false}, animation: false,
    lineStyle: {color: '#111', width: 1, type: [4, 3]}, data: [{yAxis: 0}]}});
txt(437, 883, 'Difference (Whisker pad - Sound only)');

// ---- titles and annotations ----
var LETTER = {fontStyle: 'italic', fontSize: 15, fontFamily: FONT, fill: INK};
txt(2, 10, '{l|A} - Whisker pad stimulation', {rich: {l: LETTER}});
txt(2, 474, '{l|B} - Sound only stimulation', {rich: {l: LETTER}});
txt(2, 943, '{l|C} - Summed complex spikes', {rich: {l: LETTER}});
txt(2, 1017, '{l|D}', {rich: {l: LETTER}});
txt(371, 946, '5 Complex spikes', {align: 'right'});
txt(332, 1003, '20 s', {align: 'center'});
txt(392, 10, '{l|E}', {rich: {l: LETTER}});
txt(392, 699, '{l|F}', {rich: {l: LETTER}});
txt(393, 874, '{l|G}', {rich: {l: LETTER}});

var chart = echarts.init(document.getElementById('main'), null, {renderer: 'canvas'});
chart.setOption({
  animation: false,
  backgroundColor: '#fff',
  textStyle: {fontFamily: FONT},
  grid: grids,
  xAxis: xAxes,
  yAxis: yAxes,
  legend: {
    data: ['Whisker pad', 'Sound only'],
    left: 614, top: 14, orient: 'vertical', icon: 'rect', itemWidth: 32, itemHeight: 1.5, itemGap: 6,
    selectedMode: false,
    textStyle: {color: INK, fontSize: 12, fontFamily: FONT, padding: [0, 0, 0, 8]}
  },
  series: series,
  graphic: graphics
});
</script>
</body>
</html>
